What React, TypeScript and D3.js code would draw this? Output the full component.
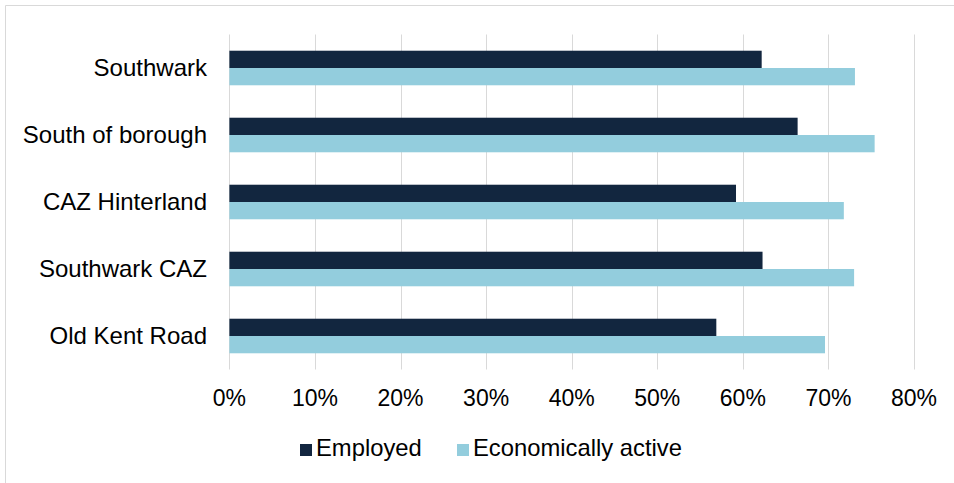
import React from "react";
import * as d3 from "d3";

const categories = ["Southwark", "South of borough", "CAZ Hinterland", "Southwark CAZ", "Old Kent Road"];
const employed = [0.622, 0.664, 0.592, 0.623, 0.569];
const economicallyActive = [0.731, 0.754, 0.718, 0.730, 0.696];
const seriesNames = ["Employed", "Economically active"];
const seriesColors = ["#12263F", "#93CDDD"];
const xTicks = [0, 0.1, 0.2, 0.3, 0.4, 0.5, 0.6, 0.7, 0.8];

const W = 954;
const H = 483;
const FONT = "'Liberation Sans', Arial, sans-serif";

export default function App() {
  const x = d3.scaleLinear().domain([0, 0.8]).range([229.4, 914]);
  const y = d3
    .scaleBand<string>()
    .domain(categories)
    .range([34.5, 369.5])
    .paddingInner(0.484)
    .paddingOuter(0.242);
  const sub = d3.scaleBand<string>().domain(seriesNames).range([0, y.bandwidth()]);
  const series = [employed, economicallyActive];
  const fmt = d3.format(".0%");

  return (
    <svg
      width={W}
      height={H}
      style={{ position: "absolute", left: 0, top: 0, background: "#fff" }}
      fontFamily={FONT}
    >
      <rect x={0} y={0} width={W} height={H} fill="#fff" />
      {/* chart border */}
      <line x1={5.5} y1={5.5} x2={W} y2={5.5} stroke="#d9d9d9" strokeWidth={1} />
      <line x1={5.5} y1={5.5} x2={5.5} y2={H} stroke="#d9d9d9" strokeWidth={1} />
      {/* gridlines */}
      {xTicks.map((t) => (
        <line
          key={"g" + t}
          x1={Math.round(x(t)) + 0.5}
          x2={Math.round(x(t)) + 0.5}
          y1={34.5}
          y2={369.5}
          stroke="#d9d9d9"
          strokeWidth={1}
        />
      ))}
      {/* bars */}
      {series.map((vals, si) =>
        categories.map((c, ci) => (
          <rect
            key={si + "-" + c}
            x={x(0)}
            y={(y(c) as number) + (sub(seriesNames[si]) as number)}
            width={x(vals[ci]) - x(0)}
            height={sub.bandwidth()}
            fill={seriesColors[si]}
          />
        ))
      )}
      {/* category labels */}
      {categories.map((c) => (
        <text
          key={"l" + c}
          x={207}
          y={(y(c) as number) + y.bandwidth() / 2}
          dy="0.35em"
          textAnchor="end"
          fontSize={24}
          fill="#000"
        >
          {c}
        </text>
      ))}
      {/* x tick labels */}
      {xTicks.map((t) => (
        <text key={"t" + t} x={x(t)} y={406} textAnchor="middle" fontSize={23} fill="#000">
          {fmt(t)}
        </text>
      ))}
      {/* legend */}
      <g>
        <rect x={300} y={444} width={12} height={12} fill={seriesColors[0]} />
        <text x={316} y={456} fontSize={23.8} fill="#000">
          {seriesNames[0]}
        </text>
        <rect x={457} y={444} width={12} height={12} fill={seriesColors[1]} />
        <text x={473} y={456} fontSize={23.8} fill="#000">
          {seriesNames[1]}
        </text>
      </g>
    </svg>
  );
}
